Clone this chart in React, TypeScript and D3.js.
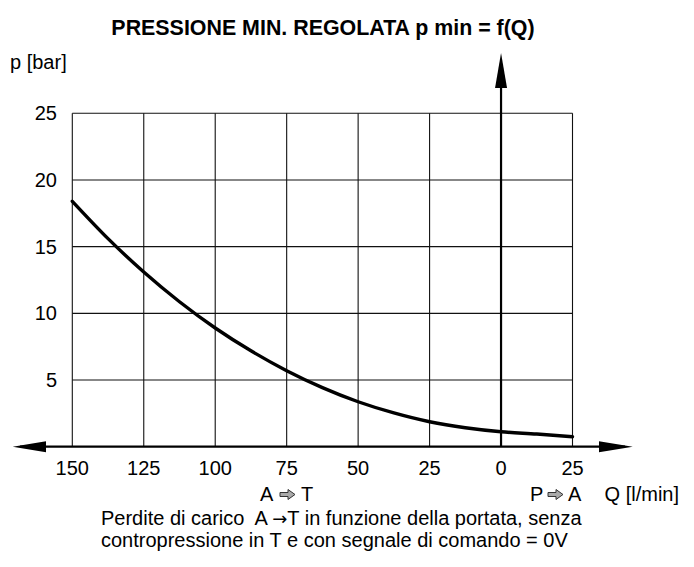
import { useRef, useEffect } from 'react';
import * as d3 from 'd3';

// signed flow: negative = A -> T, positive = P -> A
const flowQ = [-150, -137.5, -125, -112.5, -100, -87.5, -75, -62.5, -50, -37.5, -25, -12.5, 0, 12.5, 25];
const pressure = [18.4, 15.6, 13.1, 10.87, 8.9, 7.19, 5.7, 4.43, 3.37, 2.53, 1.87, 1.42, 1.12, 0.95, 0.75];
const xTicks = [-150, -125, -100, -75, -50, -25, 0, 25];
const yTicks = [5, 10, 15, 20, 25];

const FONT = 'Liberation Sans, Arial, sans-serif';

function Chart() {
    const ref = useRef(null);

    useEffect(() => {
        const svg = d3.select(ref.current);
        svg.selectAll('*').remove();

        const x = d3.scaleLinear().domain([-150, 25]).range([72.3, 572.5]);
        const y = d3.scaleLinear().domain([0, 25]).range([446.7, 113.3]);

        // grid
        const grid = svg.append('g').attr('stroke', '#111').attr('stroke-width', 1.1);
        grid.selectAll('.v')
            .data(xTicks.filter(d => d !== 0))
            .enter().append('line')
            .attr('x1', d => x(d)).attr('x2', d => x(d))
            .attr('y1', y(0)).attr('y2', y(25));
        grid.selectAll('.h')
            .data(yTicks)
            .enter().append('line')
            .attr('x1', x(-150)).attr('x2', x(25))
            .attr('y1', d => y(d)).attr('y2', d => y(d));

        // horizontal axis with arrows both ends
        const ay = y(0);
        svg.append('line')
            .attr('x1', 20).attr('x2', 625)
            .attr('y1', ay).attr('y2', ay)
            .attr('stroke', '#000').attr('stroke-width', 2.2);
        svg.append('path')
            .attr('d', `M12.7,${ay} L46,${ay - 5.5} L46,${ay + 5.5} Z`)
            .attr('fill', '#000');
        svg.append('path')
            .attr('d', `M632.7,${ay} L599,${ay - 5.5} L599,${ay + 5.5} Z`)
            .attr('fill', '#000');

        // vertical axis at Q = 0 with arrow
        const ax = x(0);
        svg.append('line')
            .attr('x1', ax).attr('x2', ax)
            .attr('y1', ay).attr('y2', 80)
            .attr('stroke', '#000').attr('stroke-width', 2.2);
        svg.append('path')
            .attr('d', `M${ax},53 L${ax - 6},88 L${ax + 6},88 Z`)
            .attr('fill', '#000');

        // curve
        const line = d3.line()
            .x((d, i) => x(flowQ[i]))
            .y(d => y(d))
            .curve(d3.curveMonotoneX);
        svg.append('path')
            .datum(pressure)
            .attr('d', line)
            .attr('fill', 'none')
            .attr('stroke', '#000')
            .attr('stroke-width', 3.4)
            .attr('stroke-linecap', 'round');

        // tick labels
        svg.append('g').selectAll('text')
            .data(xTicks)
            .enter().append('text')
            .attr('x', d => x(d))
            .attr('y', 475)
            .attr('text-anchor', 'middle')
            .attr('font-family', FONT)
            .attr('font-size', 20)
            .text(d => Math.abs(d));
        svg.append('g').selectAll('text')
            .data(yTicks)
            .enter().append('text')
            .attr('x', 57)
            .attr('y', d => y(d) + 7)
            .attr('text-anchor', 'end')
            .attr('font-family', FONT)
            .attr('font-size', 20)
            .text(d => d);

        // titles
        svg.append('text')
            .attr('x', 323).attr('y', 35)
            .attr('text-anchor', 'middle')
            .attr('font-family', FONT)
            .attr('font-size', 21.4)
            .attr('font-weight', 'bold')
            .text('PRESSIONE MIN. REGOLATA p min = f(Q)');
        svg.append('text')
            .attr('x', 10).attr('y', 69)
            .attr('font-family', FONT)
            .attr('font-size', 20)
            .text('p [bar]');

        // direction labels with hollow arrows
        const arrow = (x0, yb) => {
            svg.append('path')
                .attr('d', `M${x0},${yb - 8.5} h8 v-3 l7,5 l-7,5 v-3 h-8 Z`)
                .attr('fill', '#aaa')
                .attr('stroke', '#333')
                .attr('stroke-width', 1);
        };
        const label = (tx, txt, anchor = 'start') => svg.append('text')
            .attr('x', tx).attr('y', 501)
            .attr('text-anchor', anchor)
            .attr('font-family', FONT)
            .attr('font-size', 20)
            .text(txt);
        label(260, 'A');
        arrow(280, 501);
        label(301, 'T');
        label(530, 'P');
        arrow(548, 501);
        label(568, 'A');
        label(679, 'Q [l/min]', 'end');

        // footnote
        const note = svg.append('text')
            .attr('font-family', FONT)
            .attr('font-size', 20)
            .style('white-space', 'pre');
        const l1 = note.append('tspan').attr('x', 101).attr('y', 525);
        l1.append('tspan').text('Perdite di carico  A ');
        l1.append('tspan').attr('font-family', 'DejaVu Sans').attr('font-size', 18).text('\u2192');
        l1.append('tspan').text('T in funzione della portata, senza');
        note.append('tspan').attr('x', 101).attr('y', 547)
            .text('contropressione in T e con segnale di comando = 0V');
    }, []);

    return <svg ref={ref} width={694} height={567} style={{ position: 'absolute', left: 0, top: 0 }} />;
}

export default function App() {
    return <Chart />;
}
